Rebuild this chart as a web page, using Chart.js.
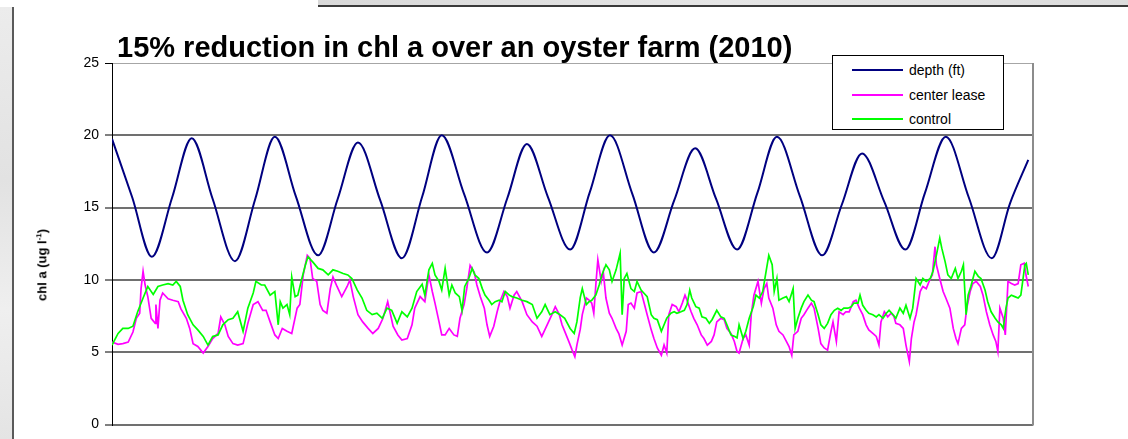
<!DOCTYPE html>
<html>
<head>
<meta charset="utf-8">
<script src="https://cdn.jsdelivr.net/npm/chart.js@4/dist/chart.umd.min.js"></script>
<style>
  html,body{margin:0;padding:0;}
  body{width:1128px;height:439px;position:relative;overflow:hidden;background:#e8e8e8;font-family:"Liberation Sans",Arial,sans-serif;}
  #leftStrip{position:absolute;left:0;top:7px;width:12px;height:432px;background:linear-gradient(180deg,#ececec,#e2e2e2 40%,#efefef 70%,#e4e4e4);}
  #topStrip{position:absolute;left:318px;top:0;width:810px;height:6px;background:linear-gradient(90deg,#d9d9d9,#e6e6e6 50%,#dcdcdc);}
  #topWhite{position:absolute;left:0;top:0;width:318px;height:7px;background:#fff;}
  #frame{position:absolute;left:12px;top:7px;width:1116px;height:432px;background:#fff;border-left:2px solid #5a5a5a;box-sizing:border-box;}
  #topLine{position:absolute;left:318px;top:5px;width:810px;height:2px;background:#3a3a3a;}
  canvas{position:absolute;left:0;top:0;}
  #title{position:absolute;left:117px;top:33px;font-weight:bold;font-size:29px;line-height:29px;white-space:nowrap;color:#000;}
  #ylab{position:absolute;left:42px;top:265px;transform:translate(-50%,-50%) rotate(-90deg);font-weight:bold;font-size:13px;white-space:nowrap;color:#000;}
  #ylab sup{font-size:8px;}
  #legend{position:absolute;left:832px;top:55px;width:172px;height:75px;border:1px solid #000;background:#fff;box-sizing:border-box;}
  .row{position:absolute;left:0;height:20px;}
  .sw{position:absolute;left:19px;top:9px;width:51px;height:2px;}
  .lt{position:absolute;left:76px;top:1px;font-size:14px;line-height:18px;white-space:nowrap;color:#000;}
</style>
</head>
<body>
<div id="leftStrip"></div>
<div id="topStrip"></div>
<div id="topWhite"></div>
<div id="frame"></div>
<div id="topLine"></div>
<canvas id="c" width="1128" height="439"></canvas>
<div id="title">15% reduction in chl a over an oyster farm (2010)</div>
<div id="ylab">chl a (ug l<sup>-1</sup>)</div>
<div id="legend"></div>
<script>
// ---- data (time in hours from start of record) ----
const seriesNames = ['depth (ft)', 'center lease', 'control'];
const yTicks = [0, 5, 10, 15, 20, 25];

const depthT = [0,3.0,5.9,8.9,11.8,14.9,18.2,21.2,24.1,27.2,30.5,33.4,36.4,39.7,42.9,45.9,48.8,52.1,55.5,58.5,61.4,64.5,67.8,70.7,73.7,77.0,80.2,83.2,86.3,89.4,92.5,95.5,98.4,101.8,105.1,108.0,111.0,114.3,117.4,120.3,123.4,126.8,130.2,132.9,135.6];
const depthV = [19.75,15.7,11.6,15.7,19.8,15.6,11.3,15.6,19.9,15.8,11.7,15.6,19.5,15.5,11.5,15.75,20.0,15.95,11.9,15.65,19.4,15.75,12.1,16.05,20.0,15.95,11.9,15.5,19.1,15.6,12.1,16.0,19.9,15.8,11.7,15.2,18.75,15.4,12.1,16.0,19.9,15.7,11.5,15.3,18.3];

const leaseT = [0.0,0.9,1.6,2.4,3.1,3.6,4.1,4.3,4.6,4.9,5.3,5.8,6.4,6.5,6.8,7.1,7.5,8.3,9.0,9.8,10.2,11.0,11.5,12.0,12.7,13.5,14.2,14.9,15.7,16.1,16.7,17.2,17.9,18.6,19.4,20.1,20.9,21.6,22.3,22.8,23.4,24.1,24.6,25.2,25.9,26.6,27.4,27.8,28.3,28.9,29.3,29.7,30.3,30.8,31.2,31.8,32.3,32.7,33.3,34.0,34.8,35.2,35.7,36.4,37.1,37.9,38.6,39.4,40.1,40.8,41.6,42.3,42.9,43.7,44.4,44.8,45.6,46.3,46.9,47.4,47.8,48.4,48.8,49.3,49.9,50.6,51.1,51.5,52.1,52.5,53.0,53.6,54.0,54.5,55.1,55.5,55.9,56.5,57.0,57.4,58.0,58.5,58.9,59.5,59.9,60.7,61.4,62.2,62.9,63.6,64.4,65.1,65.6,66.2,66.6,67.0,67.6,68.1,68.5,68.8,69.3,69.6,70.2,70.6,71.0,71.3,71.6,71.9,72.4,72.7,73.1,73.6,74.0,74.6,75.0,75.5,76.1,76.4,76.8,77.3,77.7,78.3,78.7,79.2,79.8,80.2,80.7,81.3,81.7,82.1,82.4,82.9,83.5,83.9,84.4,84.8,85.1,85.7,86.1,86.6,87.2,87.6,88.1,88.7,89.1,89.5,90.1,90.6,91.0,91.6,92.1,92.5,92.8,93.4,93.8,94.3,94.6,95.0,95.6,96.1,96.5,96.9,97.2,97.8,98.3,98.7,99.3,99.8,100.2,100.6,100.9,101.5,102.0,102.4,103.0,103.5,103.9,104.5,104.9,105.4,105.9,106.4,106.7,107.2,107.6,108.2,108.6,109.1,109.7,110.1,110.6,111.1,111.6,112.0,112.6,113.1,113.5,113.8,114.3,114.8,115.3,115.7,116.0,116.6,117.1,117.5,118.0,118.3,118.7,119.0,119.6,120.0,120.5,121.1,121.4,121.8,122.0,122.5,123.0,123.4,124.0,124.5,124.9,125.2,125.7,126.2,126.5,127.0,127.4,127.9,128.5,128.9,129.4,129.9,130.4,130.8,131.1,131.4,131.9,132.2,132.6,133.1,133.6,134.1,134.5,135.0,135.3,135.6];
const leaseV = [5.7,5.55,5.6,5.7,6.4,7.35,7.7,9.4,10.6,9.65,8.85,7.35,7.0,8.3,6.65,8.6,9.1,8.7,8.6,8.5,8.0,7.35,6.65,5.6,5.4,4.95,5.4,5.95,6.3,7.45,6.9,6.1,5.6,5.5,5.6,7.0,8.3,8.5,7.9,7.9,7.1,6.2,5.95,6.65,6.45,6.3,8.05,8.3,10.35,11.7,11.5,10.1,9.9,8.3,7.9,7.7,9.4,10.2,9.55,8.85,9.55,10.0,8.85,7.6,7.1,6.65,6.3,6.65,7.35,8.5,6.8,6.2,5.85,5.95,6.9,8.05,8.85,8.5,10.35,9.2,8.4,7.1,6.2,6.2,6.65,6.2,6.1,7.35,8.3,9.4,11.0,10.55,9.65,8.85,8.05,6.9,6.1,6.8,7.8,8.5,9.2,8.85,8.05,8.95,9.2,8.5,7.6,7.1,6.8,6.1,6.9,7.6,8.15,7.6,6.9,6.45,5.75,5.15,4.7,5.5,6.6,7.6,8.75,8.6,8.4,7.7,9.65,11.4,9.9,10.55,8.75,7.7,7.35,6.65,6.3,5.5,6.45,8.3,8.4,8.05,9.1,9.2,8.5,7.6,6.55,5.95,5.3,4.8,5.5,4.95,7.6,8.3,8.15,7.8,8.4,8.95,8.6,7.8,7.35,6.9,6.2,5.95,5.5,5.75,6.2,7.1,7.35,7.25,6.65,6.3,5.75,5.05,4.95,5.95,6.2,5.5,7.6,8.95,9.9,8.4,9.4,9.75,8.75,8.05,6.9,6.45,6.2,5.75,5.4,4.8,6.2,6.45,7.35,7.6,8.05,8.4,8.05,6.65,5.6,5.3,5.15,6.45,7.1,5.75,7.8,7.6,7.8,7.8,8.5,8.6,8.05,7.6,6.9,6.55,6.3,6.1,5.5,7.1,7.8,7.45,7.7,7.5,7.0,6.9,6.65,5.5,4.35,5.95,7.1,7.6,9.2,9.55,9.4,10.1,10.35,12.3,11.05,10.1,9.2,8.75,8.05,6.65,5.95,5.6,6.65,6.9,8.05,9.2,9.75,9.9,9.55,8.95,7.8,6.9,6.2,5.75,5.05,8.05,7.35,6.2,9.9,9.75,9.65,9.75,11.05,11.15,10.25,9.55];

const controlT = [0.0,0.9,1.6,2.4,3.1,3.8,4.6,5.3,6.1,6.8,7.5,8.3,9.0,9.5,10.1,10.5,11.2,12.0,12.7,13.5,14.2,14.9,15.7,16.4,17.2,17.9,18.6,19.4,20.1,20.9,21.3,22.1,22.6,23.4,24.1,24.6,24.9,25.3,25.9,26.3,26.6,27.1,27.5,28.1,28.6,29.0,29.7,30.5,31.2,32.0,32.7,33.4,34.2,34.9,35.5,36.3,37.0,37.7,38.5,39.2,40.0,40.7,41.4,42.2,42.9,43.7,44.4,45.1,45.9,46.3,46.9,47.4,47.8,48.4,48.8,49.3,49.9,50.3,50.8,51.4,51.8,52.2,52.8,53.3,53.7,54.3,54.8,55.2,55.8,56.2,56.7,57.3,57.7,58.2,58.8,59.2,59.9,60.7,61.4,62.2,62.9,63.6,64.1,64.8,65.6,66.3,67.0,67.8,68.4,68.8,69.3,69.6,70.2,70.6,71.0,71.6,72.1,72.5,73.1,73.6,74.0,74.6,75.2,75.5,75.8,76.2,76.8,77.3,77.7,78.3,78.7,79.2,79.8,80.2,80.7,81.3,81.7,82.1,82.7,83.2,83.6,84.2,84.7,85.1,85.5,85.8,86.4,86.9,87.3,87.9,88.4,88.8,89.5,90.1,90.6,91.0,91.6,92.1,92.5,92.8,93.4,93.8,94.3,94.9,95.3,95.8,96.3,96.8,97.2,97.7,98.0,98.4,98.7,99.3,99.8,100.2,100.8,101.1,101.5,102.0,102.4,103.0,103.5,103.9,104.5,104.9,105.4,105.9,106.4,106.9,107.4,107.9,108.3,108.9,109.4,109.8,110.4,110.7,111.1,111.6,112.0,112.6,113.1,113.5,114.1,114.6,115.0,115.6,116.0,116.6,117.1,117.5,118.1,118.5,119.0,119.6,120.0,120.5,121.1,121.5,122.0,122.5,122.8,123.3,123.7,124.2,124.8,125.2,125.7,126.0,126.4,126.7,127.1,127.7,128.2,128.6,129.2,129.6,130.1,130.7,131.1,131.6,131.9,132.3,132.6,133.1,133.6,134.1,134.5,135.1,135.3,135.6];
const controlV = [5.5,6.3,6.65,6.65,6.8,7.8,8.75,9.55,9.0,9.55,9.65,9.75,9.65,9.9,9.55,8.6,7.6,6.9,6.55,6.1,5.5,6.1,6.2,6.9,7.25,7.35,7.8,6.45,8.05,9.1,9.9,9.65,9.65,8.95,9.2,6.9,8.5,8.05,8.3,7.6,10.2,8.85,8.95,10.1,11.0,11.6,11.25,10.8,10.7,10.35,10.7,10.6,10.45,10.35,10.1,9.3,8.75,7.9,7.6,7.7,7.35,8.05,7.9,7.0,7.8,7.45,8.05,9.2,9.7,8.95,10.7,11.15,10.35,9.9,9.3,10.8,8.95,9.65,9.1,8.85,7.9,9.55,10.1,10.8,10.35,10.1,9.4,8.95,8.6,8.3,8.5,8.6,8.5,9.2,8.95,8.85,8.75,8.6,8.5,8.3,7.35,7.8,8.3,7.6,7.8,7.6,7.35,6.65,6.3,7.1,8.8,9.4,8.3,8.5,8.6,8.95,9.65,10.35,11.05,10.7,9.9,10.7,11.85,7.6,10.1,10.45,9.4,9.2,9.9,9.3,9.1,8.85,7.6,7.35,7.25,6.45,6.9,7.35,7.7,7.8,7.7,7.8,7.9,8.3,9.3,8.75,8.15,8.05,7.45,7.35,7.0,7.25,7.9,7.45,7.35,6.9,6.2,6.1,6.0,6.9,5.95,6.45,7.35,8.15,8.95,8.75,9.2,10.6,11.7,11.05,9.2,10.1,8.6,8.75,8.85,8.5,9.4,6.65,7.35,8.05,8.5,8.95,8.6,8.5,7.6,6.9,6.65,7.0,7.6,7.9,8.05,7.9,8.05,8.05,8.15,8.4,8.4,8.95,8.25,7.9,7.7,7.6,7.45,7.6,7.35,7.7,7.9,7.6,7.35,8.05,7.7,8.25,7.35,8.05,10.1,9.65,10.1,9.9,10.1,10.6,11.7,12.9,12.2,11.25,10.35,10.1,10.8,10.1,10.6,11.05,7.6,8.95,9.55,10.6,10.25,10.1,9.3,8.5,7.8,7.35,7.1,6.9,6.65,8.05,8.75,8.95,8.85,8.75,8.95,11.05,11.15,10.35];

const colors = ['#000080', '#ff00ff', '#00ff00'];

// ---- legend (HTML text) ----
const legendEl = document.getElementById('legend');
seriesNames.forEach((name, i) => {
  const row = document.createElement('div');
  row.className = 'row';
  row.style.top = (4 + i * 24.5) + 'px';
  row.innerHTML = '<div class="sw" style="background:' + colors[i] + '"></div><div class="lt">' + name + '</div>';
  legendEl.appendChild(row);
});

const toPts = (t, v) => t.map((x, i) => ({ x: x, y: v[i] }));

const frameRight = {
  id: 'frameRight',
  beforeDatasetsDraw(c) {
    const { ctx, chartArea: a } = c;
    ctx.save();
    ctx.strokeStyle = '#8c8c8c';
    ctx.lineWidth = 2;
    ctx.beginPath();
    ctx.moveTo(a.right, a.top);
    ctx.lineTo(a.right, a.bottom + 1);
    ctx.stroke();
    ctx.restore();
  }
};

new Chart(document.getElementById('c'), {
  type: 'line',
  data: {
    datasets: [
      { label: seriesNames[0], data: toPts(depthT, depthV), borderColor: colors[0], borderWidth: 2, pointRadius: 0, cubicInterpolationMode: 'monotone', fill: false, order: 2 },
      { label: seriesNames[1], data: toPts(leaseT, leaseV), borderColor: colors[1], borderWidth: 1.7, pointRadius: 0, tension: 0, fill: false, order: 1 },
      { label: seriesNames[2], data: toPts(controlT, controlV), borderColor: colors[2], borderWidth: 1.7, pointRadius: 0, tension: 0, fill: false, order: 0 }
    ]
  },
  options: {
    responsive: false,
    animation: false,
    devicePixelRatio: 1,
    layout: { padding: { left: 0, top: 63, right: 95, bottom: 12 } },
    plugins: { legend: { display: false }, title: { display: false }, tooltip: { enabled: false } },
    scales: {
      x: { type: 'linear', min: 0, max: 136.3, display: false },
      y: {
        min: yTicks[0], max: yTicks[yTicks.length - 1],
        afterBuildTicks(s) { s.ticks = yTicks.map(v => ({ value: v })); },
        afterFit(s) { s.width = 112; },
        ticks: { color: '#000', font: { family: 'Liberation Sans', size: 14 }, padding: 6 },
        grid: {
          color: (c) => (c.tick && c.tick.value === 25) ? '#a6a6a6' : '#707070',
          lineWidth: (c) => (c.tick && c.tick.value === 25) ? 1 : 2,
          tickColor: '#000', tickWidth: 1, tickLength: 7
        },
        border: { display: true, color: '#000', width: 1 }
      }
    }
  },
  plugins: [frameRight]
});
</script>
</body>
</html>
